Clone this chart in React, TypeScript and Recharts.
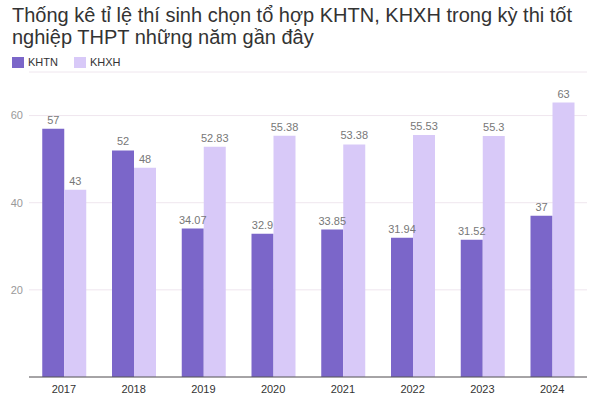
import { BarChart, Bar, XAxis, YAxis, CartesianGrid, LabelList } from 'recharts';

const years = ['2017', '2018', '2019', '2020', '2021', '2022', '2023', '2024'];
const khtn = [57, 52, 34.07, 32.9, 33.85, 31.94, 31.52, 37];
const khxh = [43, 48, 52.83, 55.38, 53.38, 55.53, 55.3, 63];
const yTicks = [20, 40, 60];

const KHTN_COLOR = '#7b66c9';
const KHXH_COLOR = '#d8c9f8';

const data = years.map((year, i) => ({ year, KHTN: khtn[i], KHXH: khxh[i] }));

const font = '"Liberation Sans", Arial, sans-serif';

export default function App() {
  return (
    <div style={{ position: 'absolute', left: 0, top: 0, width: 600, height: 400, background: '#fff', fontFamily: font }}>
      <div style={{ position: 'absolute', left: 12, top: 4, width: 585, fontSize: 20, lineHeight: '22px', color: '#333' }}>
        Thống kê tỉ lệ thí sinh chọn tổ hợp KHTN, KHXH trong kỳ thi tốt nghiệp THPT những năm gần đây
      </div>
      {/* legend */}
      <div style={{ position: 'absolute', left: 12, top: 56, display: 'flex', alignItems: 'center', fontSize: 11, color: '#333' }}>
        <span style={{ width: 12, height: 11, background: KHTN_COLOR, display: 'inline-block', marginRight: 4 }} />
        <span style={{ marginRight: 16 }}>KHTN</span>
        <span style={{ width: 12, height: 11, background: KHXH_COLOR, display: 'inline-block', marginRight: 4 }} />
        <span>KHXH</span>
      </div>
      <div style={{ position: 'absolute', left: 0, top: 0 }}>
        <BarChart
          width={600}
          height={400}
          data={data}
          margin={{ top: 72, right: 13, left: 0, bottom: 3 }}
          barCategoryGap="19%"
          barGap={0}
        >
          <CartesianGrid vertical={false} stroke="#efe6ee" />
          <XAxis
            dataKey="year"
            height={20}
            tickLine={false}
            axisLine={{ stroke: '#555' }}
            tick={{ fill: '#333', fontSize: 11, fontFamily: font }}
          />
          <YAxis
            width={29}
            domain={[0, 70]}
            ticks={yTicks}
            axisLine={false}
            tickLine={false}
            tickSize={4}
            tick={{ fill: '#999', fontSize: 11, fontFamily: font }}
          />
          <Bar dataKey="KHTN" fill={KHTN_COLOR} isAnimationActive={false}>
            <LabelList dataKey="KHTN" position="top" fill="#777" fontSize={11} fontFamily={font} />
          </Bar>
          <Bar dataKey="KHXH" fill={KHXH_COLOR} isAnimationActive={false}>
            <LabelList dataKey="KHXH" position="top" fill="#777" fontSize={11} fontFamily={font} />
          </Bar>
        </BarChart>
      </div>
    </div>
  );
}
